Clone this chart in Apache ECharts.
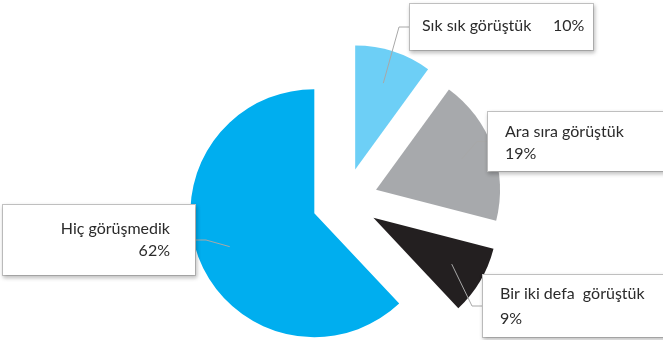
<!DOCTYPE html>
<html>
<head>
<meta charset="utf-8">
<script src="https://cdn.jsdelivr.net/npm/echarts@6/dist/echarts.min.js"></script>
<style>
  html, body { margin: 0; padding: 0; background: #ffffff; }
  #chart { width: 663px; height: 340px; }
</style>
</head>
<body>
<div id="chart"></div>
<script>
// Survey answers and their shares (percent)
const categories = ['Sık sık görüştük', 'Ara sıra görüştük', 'Bir iki defa  görüştük', 'Hiç görüşmedik'];
const values = [10, 19, 9, 62];
const sliceColors = ['#6DCFF6', '#A7A9AC', '#231F20', '#00AEEF'];

// Callout box placement for each slice: anchor x/y, alignment, text box size, padding
const callouts = [
  { x: 410, y: 4,   align: 'left',  width: 163, height: 22, lineHeight: 22, padding: [11, 8, 13, 12], fmt: '{n|{b}}{d}%' },
  { x: 488, y: 112, align: 'left',  width: 175, height: 44, lineHeight: 22, padding: [9, 10, 6, 17],  fmt: '{b}\n{d}%' },
  { x: 483, y: 275, align: 'left',  width: 180, height: 50, lineHeight: 25, padding: [6, 10, 6, 17],  fmt: '{b}\n{d}%' },
  { x: 195, y: 205, align: 'right', width: 167, height: 44, lineHeight: 22, padding: [13, 25, 13, 0], fmt: '{b}\n{d}%' }
];

const PIE_CENTER = [345, 201];
const PIE_RADIUS = 124;

const chart = echarts.init(document.getElementById('chart'), null, { renderer: 'canvas' });

// Exploded slices
const sliceData = categories.map(function (name, i) {
  return { name: name, value: values[i], selected: true, itemStyle: { color: sliceColors[i] } };
});

// Same values again, carrying the callout labels on invisible sectors
const labelData = categories.map(function (name, i) {
  const c = callouts[i];
  return {
    name: name,
    value: values[i],
    label: {
      formatter: c.fmt,
      width: c.width,
      height: c.height,
      lineHeight: c.lineHeight,
      padding: c.padding,
      align: c.align,
      rich: { n: { width: 131, lineHeight: c.lineHeight } }
    }
  };
});

chart.setOption({
  animation: false,
  series: [{
    type: 'pie',
    center: PIE_CENTER,
    radius: PIE_RADIUS,
    startAngle: 90,
    clockwise: true,
    selectedMode: 'multiple',
    selectedOffset: 33,
    silent: true,
    data: sliceData,
    itemStyle: { borderWidth: 0 },
    select: { itemStyle: { borderWidth: 0 } },
    emphasis: { disabled: true },
    label: { show: false },
    labelLine: { show: false }
  }, {
    type: 'pie',
    center: PIE_CENTER,
    radius: PIE_RADIUS,
    startAngle: 90,
    clockwise: true,
    silent: true,
    z: 3,
    data: labelData,
    itemStyle: { color: 'rgba(0,0,0,0)', borderWidth: 0 },
    emphasis: { disabled: true },
    label: {
      show: true,
      position: 'outside',
      overflow: 'none',
      color: '#2b2b2b',
      fontFamily: 'Lato',
      fontSize: 16,
      backgroundColor: '#ffffff',
      borderColor: '#c4c4c4',
      borderWidth: 1,
      shadowColor: 'rgba(0,0,0,0.22)',
      shadowBlur: 4,
      shadowOffsetX: 1,
      shadowOffsetY: 2
    },
    labelLine: {
      show: true,
      length: 10,
      length2: 10,
      lineStyle: { color: '#a8a8a8', width: 1 }
    },
    labelLayout: function (params) {
      const c = callouts[params.dataIndex];
      return { x: c.x, y: c.y, align: c.align, verticalAlign: 'top' };
    }
  }]
});
</script>
</body>
</html>
